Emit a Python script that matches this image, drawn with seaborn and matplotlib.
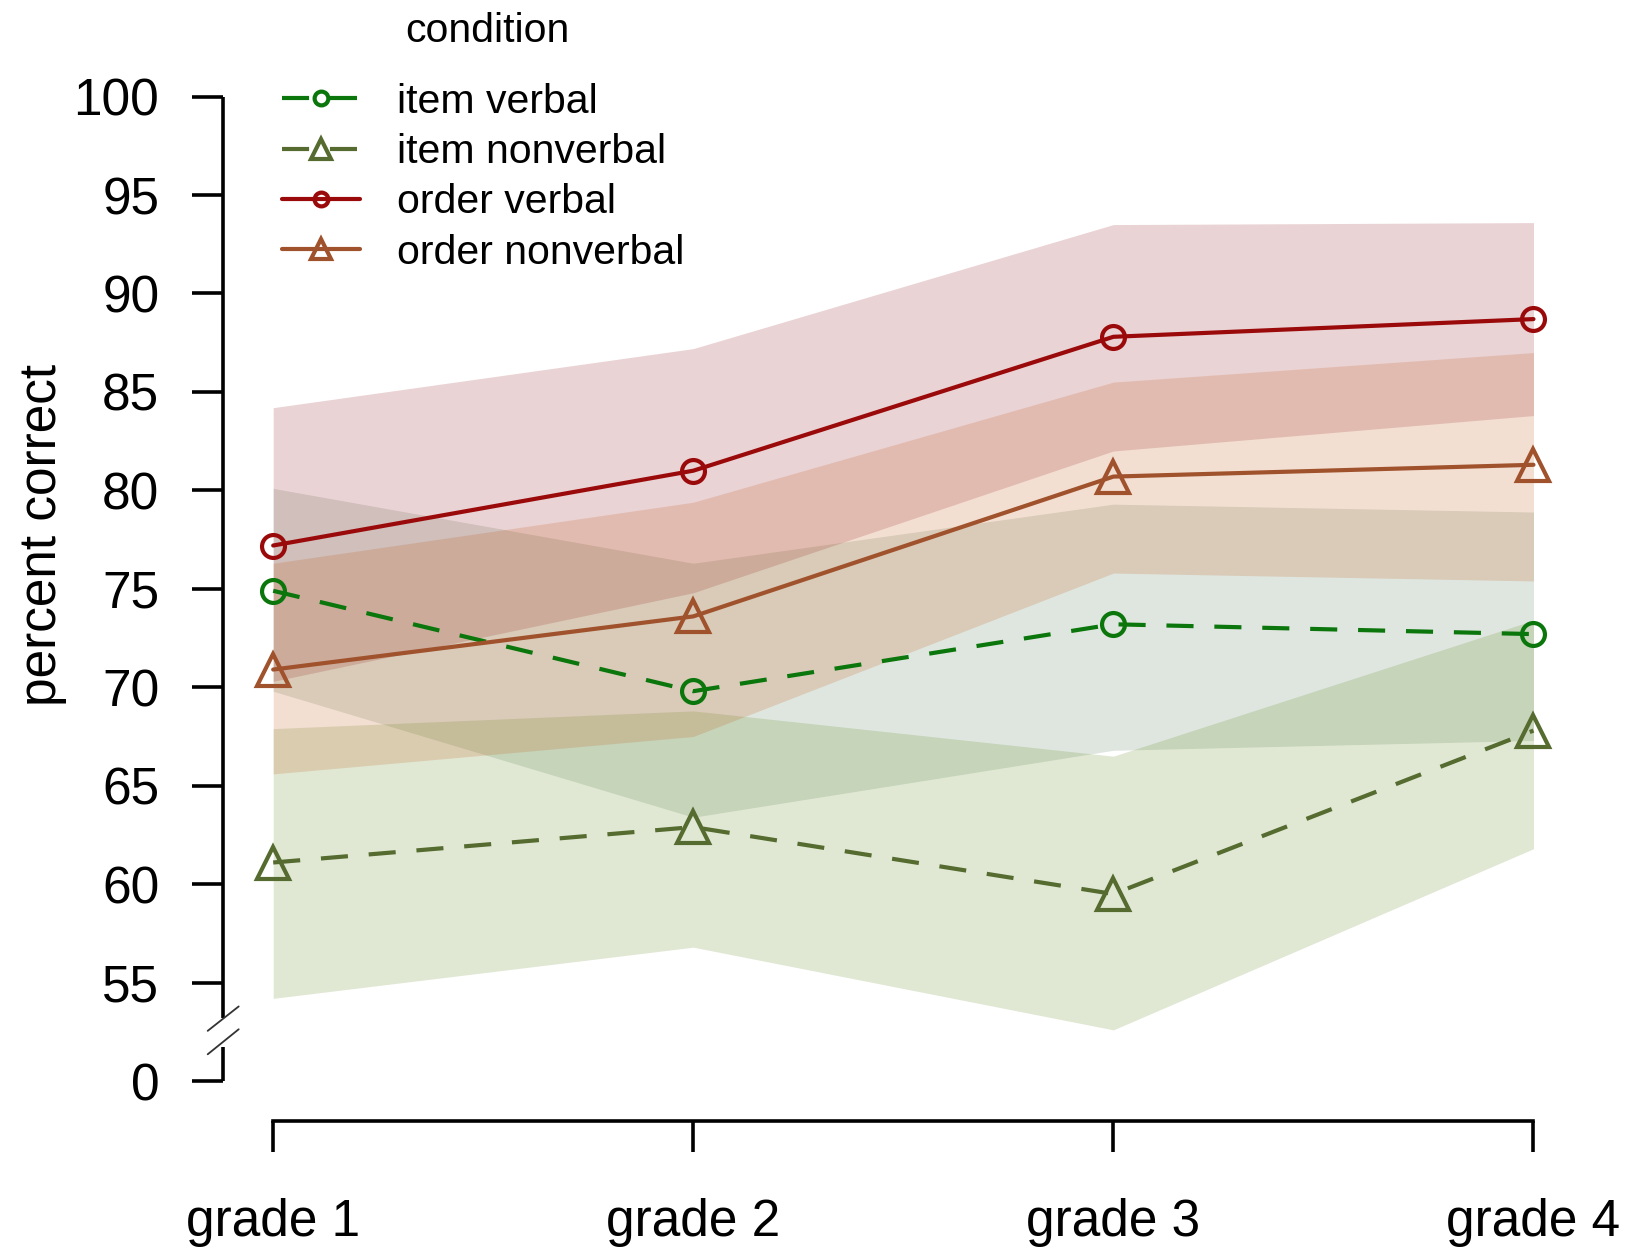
import matplotlib
matplotlib.use("Agg")
import matplotlib.pyplot as plt
import matplotlib.colors as mcolors
import pandas as pd
import seaborn as sns

# ---- data -------------------------------------------------------------
grade_labels = ["grade 1", "grade 2", "grade 3", "grade 4"]
grade_pos = [1, 2, 3, 4]
conditions = ["item verbal", "item nonverbal", "order verbal", "order nonverbal"]

item_verbal_mean = [74.9, 69.8, 73.2, 72.7]
item_verbal_lo = [69.8, 63.4, 66.8, 67.3]
item_verbal_hi = [80.1, 76.3, 79.3, 78.9]

item_nonverbal_mean = [61.1, 62.9, 59.5, 67.8]
item_nonverbal_lo = [54.2, 56.8, 52.6, 61.8]
item_nonverbal_hi = [67.9, 68.8, 66.5, 73.4]

order_verbal_mean = [77.2, 81.0, 87.8, 88.7]
order_verbal_lo = [70.3, 74.8, 82.0, 83.8]
order_verbal_hi = [84.2, 87.2, 93.5, 93.6]

order_nonverbal_mean = [70.9, 73.6, 80.7, 81.3]
order_nonverbal_lo = [65.6, 67.5, 75.8, 75.4]
order_nonverbal_hi = [76.3, 79.4, 85.5, 87.0]

# broken y axis: the lowest tick sits at 50 on the drawing scale and reads 0
y_tick_pos = [50, 55, 60, 65, 70, 75, 80, 85, 90, 95, 100]
y_tick_labels = ["0", "55", "60", "65", "70", "75", "80", "85", "90", "95", "100"]

means = {
    "item verbal": item_verbal_mean,
    "item nonverbal": item_nonverbal_mean,
    "order verbal": order_verbal_mean,
    "order nonverbal": order_nonverbal_mean,
}
bands = {
    "item verbal": (item_verbal_lo, item_verbal_hi),
    "item nonverbal": (item_nonverbal_lo, item_nonverbal_hi),
    "order verbal": (order_verbal_lo, order_verbal_hi),
    "order nonverbal": (order_nonverbal_lo, order_nonverbal_hi),
}

# ---- styles -----------------------------------------------------------
line_colors = {
    "item verbal": "#0B760B",
    "item nonverbal": "#556B2F",
    "order verbal": "#9B0A0A",
    "order nonverbal": "#A0522D",
}
band_colors = {
    "item verbal": "#5F825F",
    "item nonverbal": "#648C28",
    "order verbal": "#96232D",
    "order nonverbal": "#C35F1E",
}
marker_map = {"item verbal": "o", "item nonverbal": "^",
              "order verbal": "o", "order nonverbal": "^"}
dash_map = {"item verbal": (6.5, 5.0), "item nonverbal": (6.5, 5.0),
            "order verbal": "", "order nonverbal": ""}
marker_sizes = {"o": 16.5, "^": 23}
LW = 3.0

sns.set_style("ticks")
plt.rcParams["font.family"] = ["Liberation Sans", "DejaVu Sans"]
plt.rcParams["text.color"] = "black"
plt.rcParams["axes.labelcolor"] = "black"

rows = []
for c in conditions:
    for g, v in zip(grade_pos, means[c]):
        rows.append({"grade": g, "percent": v, "condition": c})
df = pd.DataFrame(rows)

fig = plt.figure(figsize=(16.28, 12.52), dpi=100)
ax = fig.add_axes([0.1371, 0.1043, 0.8629, 0.8478])

x_left, x_right = 0.881, 4.225
y_bottom, y_top = 47.95, 101.86
ax.set_xlim(x_left, x_right)
ax.set_ylim(y_bottom, y_top)

# shaded intervals
for c in conditions:
    lo, hi = bands[c]
    ax.fill_between(grade_pos, lo, hi, color=band_colors[c], alpha=0.2,
                    linewidth=0, zorder=1)

sns.lineplot(data=df, x="grade", y="percent", hue="condition", style="condition",
             hue_order=conditions, style_order=conditions, palette=line_colors,
             markers=marker_map, dashes=dash_map, linewidth=LW,
             errorbar=None, legend=False, ax=ax, zorder=3)

hex_to_cond = {mcolors.to_hex(v): k for k, v in line_colors.items()}
handles = {}
for line in ax.lines:
    cond = hex_to_cond.get(mcolors.to_hex(line.get_color()))
    if cond is None:
        continue
    line.set_markeredgecolor(line_colors[cond])
    line.set_markerfacecolor("none")
    line.set_markeredgewidth(3.0)
    line.set_markersize(marker_sizes[marker_map[cond]])
    handles[cond] = line

# axes styling
for side in ("top", "right", "left"):
    ax.spines[side].set_visible(False)
ax.spines["bottom"].set_bounds(1, 4)
ax.spines["bottom"].set_linewidth(2.6)
ax.spines["bottom"].set_color("black")

ax.set_xticks(grade_pos, grade_labels)
ax.set_yticks(y_tick_pos, y_tick_labels)
ax.tick_params(axis="x", length=22, width=2.6, pad=33, labelsize=37, colors="black")
ax.tick_params(axis="y", length=22, width=2.6, pad=24, labelsize=37, colors="black")
ax.set_xlabel("")
ax.set_ylabel("percent correct", fontsize=37, va="center", color="black")
ax.yaxis.set_label_coords(-0.1286, 0.5525)

# left axis drawn in two pieces with a break mark between them
ax.plot([x_left, x_left], [53.2, 100], color="black", lw=2.6, clip_on=False,
        solid_capstyle="butt", zorder=5)
ax.plot([x_left, x_left], [50, 51.75], color="black", lw=2.6, clip_on=False,
        solid_capstyle="butt", zorder=5)
dx = 15.5 / 420.2
ax.plot([x_left - dx, x_left + dx], [52.55, 53.79], color="#333333", lw=1.3,
        clip_on=False, zorder=5)
ax.plot([x_left - dx, x_left + dx], [51.36, 52.63], color="#333333", lw=1.3,
        clip_on=False, zorder=5)

leg = ax.legend([handles[c] for c in conditions], conditions,
                loc="upper left", bbox_to_anchor=(0.1733, 0.934),
                bbox_transform=fig.transFigure, frameon=False, fontsize=29.5,
                handlelength=1.9, handletextpad=0.9, labelcolor="black",
                labelspacing=0.30, borderpad=0, borderaxespad=0, markerscale=0.6)
fig.text(0.2488, 0.975, "condition", fontsize=29.5, ha="left", va="center",
         color="black")

fig.savefig("out.png", dpi=100)
